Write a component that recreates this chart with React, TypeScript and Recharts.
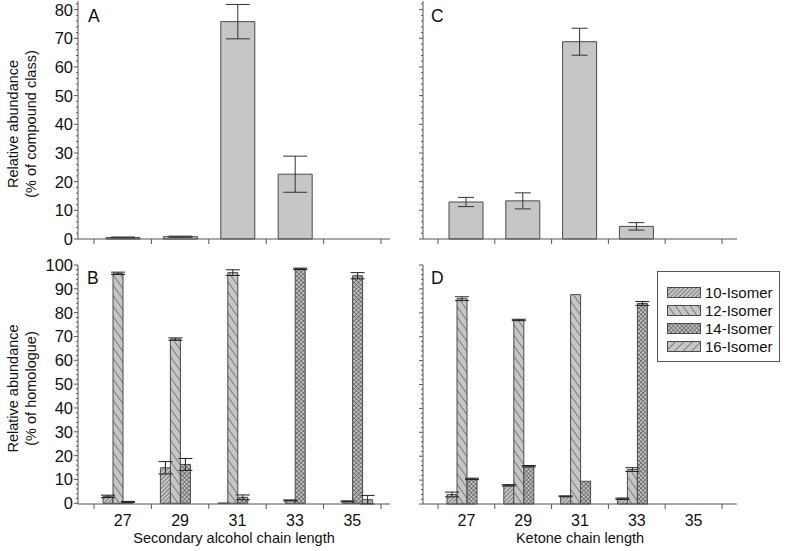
import React from 'react';
import { BarChart, Bar, XAxis, YAxis, ErrorBar } from 'recharts';

const FONT = '"Liberation Sans", Arial, Helvetica, sans-serif';
const INK = '#111';
const AXIS = '#555';
const BAR_FILL = '#c6c6c6';
const BAR_EDGE = '#4a4a4a';

// x categories (carbon chain length)
const chainLengths = ['27', '29', '31', '33', '35'];

// panel A: secondary alcohols, % of compound class
const alcoholShare = [0.5, 0.8, 75.8, 22.6, 0];
const alcoholShareErr = [0.2, 0.2, 6.0, 6.3, null];

// panel C: ketones, % of compound class
const ketoneShare = [12.9, 13.3, 68.8, 4.4, 0];
const ketoneShareErr = [1.6, 2.8, 4.7, 1.3, null];

// panel B: secondary alcohol isomers, % of homologue
const isomerNames = ['10-Isomer', '12-Isomer', '14-Isomer', '16-Isomer'];
const alcohol10 = [2.9, 14.9, 0.1, 0, 0];
const alcohol10Err = [0.5, 2.6, null, null, null];
const alcohol12 = [96.5, 68.9, 96.8, 1.2, 0.8];
const alcohol12Err = [0.5, 0.5, 1.2, 0.2, 0.2];
const alcohol14 = [0.6, 16.3, 2.5, 98.4, 95.5];
const alcohol14Err = [0.2, 2.5, 1.0, 0.3, 1.3];
const alcohol16 = [0, 0, 0, 0, 1.5];
const alcohol16Err = [null, null, null, null, 1.8];

// panel D: ketone isomers, % of homologue
const ketone10 = [4.0, 7.8, 3.2, 2.2, 0];
const ketone10Err = [1.0, 0.3, 0.2, 0.3, null];
const ketone12 = [85.9, 77.0, 87.6, 14.4, 0];
const ketone12Err = [0.8, 0.3, null, 0.8, null];
const ketone14 = [10.5, 15.8, 9.5, 83.9, 0];
const ketone14Err = [0.3, 0.3, null, 0.8, null];
const ketone16 = [0, 0, 0, 0, 0];
const ketone16Err = [null, null, null, null, null];

// y tick labels
const classTickLabels = [0, 10, 20, 30, 40, 50, 60, 70, 80];
const homologueTickLabels = [0, 10, 20, 30, 40, 50, 60, 70, 80, 90, 100];

// majors plus minor ticks every 2 units
const withMinor = (majors: number[], top: number) => {
  const out: number[] = [];
  for (let v = 0; v <= top; v += 2) out.push(v);
  return out.filter((v) => majors.includes(v) || v % 2 === 0);
};
const classTicks = withMinor(classTickLabels, 82);
const homologueTicks = withMinor(homologueTickLabels, 100);

const isoKeys = ['i10', 'i12', 'i14', 'i16'];
const isoPatterns = ['p10', 'p12', 'p14', 'p16'];

const classRows = (vals: number[], errs: (number | null)[]) =>
  chainLengths.map((chain, i) => ({ chain, value: vals[i], err: errs[i] }));

const isomerRows = (vals: number[][], errs: (number | null)[][]) =>
  chainLengths.map((chain, i) => {
    const row: any = { chain };
    isoKeys.forEach((k, j) => {
      row[k] = vals[j][i];
      row['e' + k] = errs[j][i];
    });
    return row;
  });

const dataA = classRows(alcoholShare, alcoholShareErr);
const dataC = classRows(ketoneShare, ketoneShareErr);
const dataB = isomerRows(
  [alcohol10, alcohol12, alcohol14, alcohol16],
  [alcohol10Err, alcohol12Err, alcohol14Err, alcohol16Err]
);
const dataD = isomerRows(
  [ketone10, ketone12, ketone14, ketone16],
  [ketone10Err, ketone12Err, ketone14Err, ketone16Err]
);

function YTick(props: any) {
  const { x, y, payload, showLabel } = props;
  const major = payload.value % 10 === 0;
  return (
    <g>
      <line x1={x - (major ? 4 : 2)} x2={x} y1={y} y2={y} stroke={AXIS} />
      {major && showLabel && (
        <text x={x - 5} y={y} dy={6} textAnchor="end" fontSize={16.5} fontFamily={FONT} fill={INK}>
          {payload.value}
        </text>
      )}
    </g>
  );
}

function XTick(props: any) {
  const { x, y, payload, index, showLabel } = props;
  const half = payload.offset || 28.7;
  return (
    <g>
      <line x1={x - half} x2={x - half} y1={y} y2={y + 5} stroke={AXIS} />
      {index === chainLengths.length - 1 && (
        <line x1={x + half} x2={x + half} y1={y} y2={y + 5} stroke={AXIS} />
      )}
      {showLabel && (
        <text x={x} y={y + 22} textAnchor="middle" fontSize={16} fontFamily={FONT} fill={INK}>
          {payload.value}
        </text>
      )}
    </g>
  );
}

function yTitle(lines: string[]) {
  return {
    content: (p: any) => {
      const vb = p.viewBox || {};
      const cy = vb.y + vb.height / 2 + 4;
      const xs = [13, 31];
      return (
        <g>
          {lines.map((t, i) => (
            <text
              key={t}
              x={xs[i]}
              y={cy}
              transform={`rotate(-90, ${xs[i]}, ${cy})`}
              textAnchor="middle"
              dominantBaseline="central"
              fontSize={14.5}
              fontFamily={FONT}
              fill={INK}
            >
              {t}
            </text>
          ))}
        </g>
      );
    },
  };
}

function frameAxes() {
  return [
    <XAxis key="t" xAxisId="top" orientation="top" height={0} tick={false} tickLine={false} axisLine={{ stroke: AXIS }} />,
    <YAxis key="r" yAxisId="right" orientation="right" width={0} tick={false} tickLine={false} axisLine={{ stroke: AXIS }} />,
  ];
}

function ClassChart({ data, left, labels, errWidth }: any) {
  return (
    <BarChart
      width={left ? 395 : 347}
      height={250}
      data={data}
      margin={{ top: 1, right: 5, bottom: 1, left: 0 }}
    >
      <XAxis
        dataKey="chain"
        height={10}
        padding={left ? { left: 16, right: 9 } : { left: 15, right: 15 }}
        axisLine={{ stroke: AXIS }}
        tickLine={false}
        tickSize={0}
        tickMargin={0}
        interval={0}
        tick={(p: any) => <XTick {...p} showLabel={false} />}
      />
      <YAxis
        width={left ? 78 : 28}
        domain={[0, 83]}
        ticks={classTicks}
        interval={0}
        axisLine={{ stroke: AXIS }}
        tickLine={false}
        tickSize={0}
        tickMargin={0}
        tick={(p: any) => <YTick {...p} showLabel={left} />}
        label={labels ? yTitle(labels) : undefined}
      />
      {frameAxes()}
      <Bar dataKey="value" barSize={34} fill={BAR_FILL} stroke={BAR_EDGE} isAnimationActive={false}>
        <ErrorBar dataKey="err" width={errWidth} stroke="#333" strokeWidth={1} isAnimationActive={false} />
      </Bar>
    </BarChart>
  );
}

function IsomerChart({ data, left, labels, title }: any) {
  return (
    <BarChart
      width={left ? 395 : 347}
      height={301}
      data={data}
      margin={{ top: 15, right: 5, bottom: 0, left: 0 }}
      barCategoryGap={9}
      barGap={0}
    >
      <XAxis
        dataKey="chain"
        height={47}
        padding={left ? { left: 16, right: 9 } : { left: 15, right: 15 }}
        axisLine={{ stroke: AXIS }}
        tickLine={false}
        tickSize={0}
        tickMargin={0}
        interval={0}
        tick={(p: any) => <XTick {...p} showLabel />}
        label={{ value: title, position: 'insideBottom', offset: 8, fill: INK, fontSize: 14.5, fontFamily: FONT }}
      />
      <YAxis
        width={left ? 78 : 28}
        domain={[0, 100]}
        ticks={homologueTicks}
        interval={0}
        axisLine={{ stroke: AXIS }}
        tickLine={false}
        tickSize={0}
        tickMargin={0}
        tick={(p: any) => <YTick {...p} showLabel={left} />}
        label={labels ? yTitle(labels) : undefined}
      />
      {frameAxes()}
      {isoKeys.map((k, j) => (
        <Bar
          key={k}
          dataKey={k}
          name={isomerNames[j]}
          fill={`url(#${isoPatterns[j]})`}
          stroke={BAR_EDGE}
          isAnimationActive={false}
        >
          <ErrorBar dataKey={'e' + k} width={7} stroke="#222" strokeWidth={1} isAnimationActive={false} />
        </Bar>
      ))}
    </BarChart>
  );
}

function Patterns() {
  const bg = <rect width={20} height={20} fill={BAR_FILL} />;
  return (
    <defs>
      <pattern id="p10" width={3} height={3} patternUnits="userSpaceOnUse" patternTransform="rotate(45)">
        {bg}
        <line x1={0} y1={0} x2={0} y2={3} stroke="#333" strokeWidth={1} />
      </pattern>
      <pattern id="p12" width={6} height={6} patternUnits="userSpaceOnUse" patternTransform="rotate(-35)">
        {bg}
        <line x1={0} y1={0} x2={0} y2={6} stroke="#333" strokeWidth={1} />
      </pattern>
      <pattern id="p14" width={3} height={3} patternUnits="userSpaceOnUse" patternTransform="rotate(45)">
        {bg}
        <line x1={0} y1={0} x2={0} y2={3} stroke="#333" strokeWidth={1} />
        <line x1={0} y1={0} x2={3} y2={0} stroke="#333" strokeWidth={1} />
      </pattern>
      <pattern id="p16" width={6} height={6} patternUnits="userSpaceOnUse" patternTransform="rotate(45)">
        {bg}
        <line x1={0} y1={0} x2={0} y2={6} stroke="#333" strokeWidth={1} />
      </pattern>
    </defs>
  );
}

function IsomerLegend() {
  return (
    <div
      style={{
        position: 'absolute',
        left: 657,
        top: 271,
        width: 121,
        height: 89,
        border: `1px solid ${AXIS}`,
        background: '#fff',
        fontFamily: FONT,
        fontSize: 15,
        color: INK,
      }}
    >
      {isomerNames.map((n, j) => (
        <div key={n} style={{ position: 'absolute', left: 9, top: 11 + j * 18, height: 18, display: 'flex', alignItems: 'center' }}>
          <svg width={34} height={11} style={{ marginRight: 4 }}>
            <rect x={0.5} y={0.5} width={33} height={10} fill={`url(#${isoPatterns[j]})`} stroke={BAR_EDGE} />
          </svg>
          <span>{n}</span>
        </div>
      ))}
    </div>
  );
}

const letterStyle = { fontSize: 17.5, fontFamily: FONT, fill: INK } as const;

export default function App() {
  return (
    <div style={{ position: 'absolute', left: 0, top: 0, width: 786, height: 551, background: '#fff', overflow: 'hidden' }}>
      <div style={{ position: 'absolute', left: 0, top: 0 }}>
        <ClassChart data={dataA} left labels={['Relative abundance', '(% of compound class)']} errWidth={12} />
      </div>
      <div style={{ position: 'absolute', left: 395, top: 0 }}>
        <ClassChart data={dataC} left={false} errWidth={8} />
      </div>
      <div style={{ position: 'absolute', left: 0, top: 250 }}>
        <IsomerChart
          data={dataB}
          left
          labels={['Relative abundance', '(% of homologue)']}
          title="Secondary alcohol chain length"
        />
      </div>
      <div style={{ position: 'absolute', left: 395, top: 250 }}>
        <IsomerChart data={dataD} left={false} title="Ketone chain length" />
      </div>
      <IsomerLegend />
      <svg width={786} height={551} style={{ position: 'absolute', left: 0, top: 0, pointerEvents: 'none' }}>
        <Patterns />
        <text x={88} y={22} {...letterStyle}>A</text>
        <text x={431} y={22} {...letterStyle}>C</text>
        <text x={87} y={284} {...letterStyle}>B</text>
        <text x={431} y={284} {...letterStyle}>D</text>
      </svg>
    </div>
  );
}
